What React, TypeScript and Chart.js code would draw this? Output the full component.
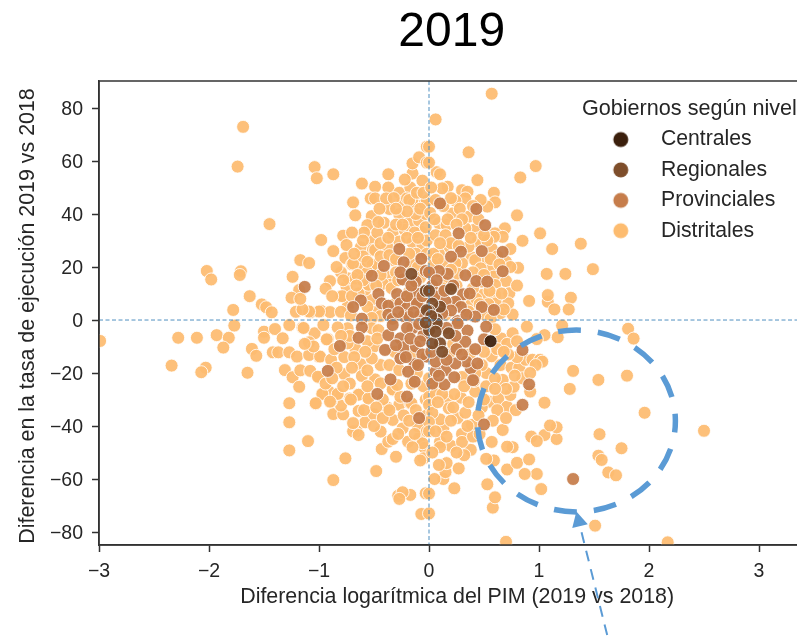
import React, { useEffect, useRef } from "react";
import { Chart, registerables } from "chart.js";

Chart.register(...registerables);

const chartTitle = "2019";
const xAxisTitle = "\u00a0\u00a0\u00a0Diferencia logarítmica del PIM (2019 vs 2018)";
const yAxisTitle = "Diferencia en la tasa de ejecución 2019 vs 2018\u00a0";
const legendTitle = "Gobiernos según nivel";
const xTicks = [-3, -2, -1, 0, 1, 2, 3];
const yTicks = [-80, -60, -40, -20, 0, 20, 40, 60, 80];

const centrales: number[][] = [[0.56, -8.0]];

const regionales: number[][] = [
  [-0.16,17.4],[-0.02,11],[-0.03,11],[0.2,11.7],[0,11],[0.1,5],[0.03,6.2],[0,3.5],[0.07,0.3],[-0.02,3.7],
  [0.07,-1.3],[0.18,-5],[0.1,-8.8],[0.12,-12],[0.03,-8.8],[0,-3.8],[0.06,-4.4],[0.02,1.5],[-0.03,-1],
];

const provinciales: number[][] = [
  [-1.13,12.5],[-0.52,16.7],[-0.41,20.4],[-0.27,26.8],[-0.23,21.8],[-0.07,23.1],[-0.03,18.5],[-0.46,9.8],[-0.62,7.4],[-0.69,4.9],
  [-0.43,6.3],[-0.37,5.4],[-0.29,9.8],[-0.26,6.3],[-0.2,4.6],[-0.1,6.3],[-0.12,14.5],[-0.24,15.3],[-0.23,1.5],[-0.37,2],
  [-0.33,0.5],[-0.61,0.5],[-0.18,1.2],[-0.08,1.8],[-0.11,10],[-0.26,18],[-0.11,6.3],[-0.2,9],[-0.16,13],[-0.06,9],[-0.14,3],[-0.28,3],
  [0.1,44],[0.43,41.9],[0.51,35.8],[0.27,32.7],[0.29,25.8],[0.2,23.9],[0.48,26],[0.67,25.7],[0.67,18.4],[0.33,16.9],[0.17,17.4],
  [0.43,14.7],[0.53,14.5],[0.09,18.5],[0.31,9.7],[0.37,10],[0.24,6.9],[0.48,4.9],[0.59,3.8],[0.42,1.3],[0.29,4.9],[0.15,7],[0.03,13],[0,18],
  [0.26,-0.4],[0.2,3.6],[0.12,2.5],[0.05,9],[0.14,11],[0.07,15],[0.22,13],[0.34,2],
  [-0.61,-2.8],[-0.64,-6.7],[-0.81,-9.8],[-0.92,-19.2],[-0.37,-5.7],[-0.4,-11.3],[-0.15,-3.1],[-0.26,-6.9],[-0.05,-5.7],[-0.23,-10.3],[-0.12,-10],
  [-0.13,-16.7],[-0.19,-19.5],[-0.13,-23.3],[-0.35,-22.4],[-0.47,-27.9],[-0.2,-28.9],[-0.09,-37],[-0.33,-1.9],[-0.02,-13.8],[-0.26,-14.5],
  [-0.2,-3],[-0.09,-1.5],[-0.3,-9.5],[-0.17,-7],[-0.08,-8],[-0.21,-14],[-0.06,-13],[-0.1,-17],
  [0.52,-2.5],[0.5,-7.3],[0.35,-4],[0.33,-8.2],[0.42,-11],[0.26,-1.3],[0.15,-18.9],[0.38,-18.2],[0.14,-24.3],[0.23,-21.6],[0.4,-22.7],[0.91,-24.3],
  [0.85,-32],[0.06,-19.5],[0.06,-15.7],[0.34,-15.7],[0.44,-16.4],[0.24,-16.4],[0.85,-11.3],[0.5,-39.4],[1.31,-60],
  [0.16,-3],[0.24,-6],[0.25,-11],[0.02,-12],[0.16,-15],[0.3,-13],[0.03,-24],[0.09,-21],
];

const distritales: number[][] = [
  [-1.69,72.9],[-1.74,57.9],[-1.04,57.7],[-1.02,53.5],[-0.87,55],[-0.61,51.5],[-0.37,55],[-0.49,50.3],[-0.37,50],[-0.69,44.4],
  [-0.67,39.5],[-1.45,36.2],[-0.98,30.2],[-0.78,31.8],[-0.75,28.3],[-0.87,26],[-0.62,27.4],[-0.52,29.8],[-0.52,39.2],[-0.56,35.8],
  [-0.59,33],[-0.41,36.7],[-0.33,33],[-0.36,41.9],[-0.27,39.9],[-0.18,36.7],[-0.09,37.5],[-0.07,33.3],[-0.15,29.2],[-0.27,29.6],
  [-0.38,27.7],[-0.51,26.4],[-0.27,48],[-0.17,50],[-0.15,55.3],[-0.15,59.1],[-0.09,61.4],[-0.02,65.4],[-0.02,59.4],[-0.06,52.6],
  [-0.53,45.9],[-0.49,45.9],[-0.39,45.9],[-0.24,44.6],[-0.14,45.9],[-0.2,45.9],[-0.14,44],[-0.04,44],[-0.18,45.3],[-0.02,45],[-0.03,40],
  [-2.02,18.5],[-1.98,15.3],[-1.71,18.4],[-1.72,17],[-1.17,22.6],[-1.09,21.5],[-1.24,16.3],[-1.18,11.3],[-0.9,14.7],[-0.94,11.8],
  [-1.63,9],[-1.52,5.9],[-1.48,4.8],[-1.43,2.9],[-1.78,3.8],[-1.25,8.4],[-1.21,3.1],[-1.08,2.9],[-0.98,3.4],[-0.9,3],
  [-0.8,9],[-0.75,12.6],[-0.73,15.7],[-0.67,15.7],[-0.76,23.4],[-0.7,21],[-0.62,19.5],[-0.5,20.5],[-0.51,20.9],[-0.32,22.6],
  [-0.06,28.3],[-0.12,25],[-0.49,26.4],[-0.38,16.4],[-0.35,13.3],[-0.42,13.7],[-0.18,10.6],[-0.53,7.5],[-0.74,5],[-1,3.2],
  [-0.8,3.1],[-1.09,3.2],[-0.71,1.7],[-0.5,3],[-1.15,4],[-1.17,8],[-0.58,11.5],[-0.55,13.3],[-0.79,9],[-0.69,21.3],
  [-0.3,18],[-0.34,12],[-0.28,15],[-0.44,17],[-0.56,18],[-0.6,15],[-0.48,13],[-0.64,10],[-0.56,5],[-0.44,1.5],
  [-0.16,21],[-0.1,20],[-0.18,25],[-0.02,30],[-0.08,16],[-0.02,25],[-0.31,6],[-0.16,8],[-0.05,9],[-0.52,0.8],
  [-0.44,24],[-0.36,24.5],[-0.3,23],[-0.47,33],[-0.44,29],[-0.37,31],[-0.22,34],[-0.13,33],[-0.2,31],[-0.3,36],
  [-0.24,36],[-0.12,40],[-0.2,41],[-0.08,42],[-0.32,46],[-0.3,42],[-0.45,42],[-0.11,48],[-0.05,48],[-0.22,53],
  [-0.6,24],[-0.68,25],[-0.56,22],[-0.65,17],[-0.8,18],[-0.84,20],[-0.78,15],[-0.88,9],[-0.7,9],[-0.66,13],
  [-0.6,30],[-0.7,33],[-0.46,37],[-0.03,35],[-0.1,31],
  [0.57,85.4],[0.06,75.7],[0,65.4],[0.36,63.3],[0.97,58.1],[0.83,53.8],[0.44,52.8],[0.07,55.8],[0,59.4],[0.17,50.3],
  [0.12,49.7],[0.3,49],[0.35,48.4],[0.33,45.9],[0.24,45],[0.59,48],[0.6,44.4],[0.53,42.8],[0.47,45.3],[0.8,39.5],
  [0.36,39],[1.01,32.7],[0.85,29.9],[0.69,34.6],[0.6,32.7],[0.67,31.4],[1.12,26.8],[1.38,28.8],[1.49,19.2],[1.07,17.4],
  [1.24,17.4],[0.81,19.7],[0.74,26.8],[0.91,7.2],[1.08,6.9],[1.08,9.4],[1.29,8.4],[1.14,4],[1.27,4],[0.76,2.1],
  [0.06,45.3],[0.09,36.5],[0.16,35.8],[0.01,40.4],[0.21,40.2],[0.41,34],[0.06,32],[0.15,32],[0.33,34.6],[0.45,30.8],
  [0.18,27.7],[0.09,25],[0.04,25],[0.39,23.6],[0.44,29.5],[0.36,27.7],[0.57,27],[0.59,31.4],[0.53,22.6],[0.42,22.6],
  [0.3,21.4],[0.12,21.4],[0.04,20.8],[0.24,21.4],[0.57,19.5],[0.47,19.5],[0.7,22],[0.74,20],[0.7,14.7],[0.59,16.4],
  [0.6,13.2],[0.48,14.5],[0.73,10.1],[0.49,9.5],[0.6,9.5],[0.61,6.3],[0.72,6.3],[0.38,5.7],[0.27,6.9],[0.36,3.2],
  [0.65,2.6],[0.51,2],[0.15,14],[0.25,13],[0.09,10],[0.43,8],[0.54,6],[0.2,29],[0.26,17.5],[0.12,12],
  [0.05,38],[0.13,43],[0.2,46],[0.28,42],[0.3,38],[0.4,43],[0.45,38],[0.17,38],[0.25,36],[0.1,29],[0.27,28],
  [0.02,50],[0.1,55],[0.53,30],[0.38,31],[0.5,32],[0.62,24],[0.56,23],[0.64,21],[0.4,18],[0.5,17],
  [0.2,19],[0.08,23],[0.8,13],[0.66,10],[0.55,11],[0.4,12],[0.46,6],[0.68,4],[0.15,2],[0.56,0.5],
  [-2.99,-7.9],[-2.28,-6.7],[-2.11,-6.7],[-1.93,-5.7],[-1.82,-6.7],[-1.87,-10.4],[-1.77,-2.1],[-2.34,-17.2],[-2.03,-18],[-2.07,-19.7],
  [-1.65,-19.9],[-1.61,-10.9],[-1.57,-13.5],[-1.5,-4.4],[-1.5,-6.7],[-1.4,-3.4],[-1.42,-12.2],[-1.37,-12.2],[-1.33,-6.9],[-1.27,-12.2],
  [-1.2,-13.8],[-1.27,-1.9],[-1.15,-2.9],[-1.04,-5],[-1.09,-8.4],[-0.92,-7.2],[-1,-13.8],[-1.09,-13.2],[-1.31,-18.9],[-1.24,-21.6],
  [-1.18,-25.2],[-1.17,-19],[-1.08,-19.2],[-1,-21.7],[-1.27,-31.4],[-1.27,-38.6],[-1.27,-49.2],[-1.1,-45.7],[-1.03,-31.6],[-0.97,-28],
  [-0.76,-52.2],[-0.87,-60.4],[-0.48,-57],[-0.3,-51.6],[-0.43,-48.7],[-0.37,-45.9],[-0.33,-44.9],[-0.44,-42.1],[-0.58,-38.6],[-0.66,-41.9],
  [-0.69,-42],[-0.64,-43.4],[-0.69,-38.9],[-0.33,-37.7],[-0.24,-40.9],[-0.5,-35.6],[-0.64,-34.3],[-0.59,-34],[-0.87,-35.5],[-0.78,-35.6],
  [-0.8,-32.3],[-0.89,-30.6],[-0.83,-27.7],[-0.91,-27],[-0.64,-28],[-0.72,-29.6],[-0.56,-29],[-0.38,-33],[-0.33,-26.4],[-0.27,-32],
  [-0.17,-31.5],[-0.19,-45.9],[-0.09,-44.6],[-0.04,-48.2],[-0.05,-52.2],[-0.06,-46.5],[-0.17,-66],[-0.28,-66.3],[-0.24,-65],[-0.27,-67.5],
  [-0.03,-65.4],[-0.07,-73.2],[-1.14,-3],[-0.96,-1.9],[-0.93,-7.3],[-0.74,-3.1],[-0.83,-2.8],[-0.52,-3.1],[-0.46,-3.8],[-0.99,-13.8],
  [-0.89,-15],[-0.77,-14],[-0.62,-16.7],[-0.67,-10.7],[-0.5,-10],[-0.74,-8.8],[-0.77,-20.4],[-0.61,-21.1],[-0.44,-17],[-0.36,-17],
  [-0.49,-22.4],[-0.44,-23.9],[-0.33,-26.2],[-0.64,-28.2],[-0.83,-27.9],[-0.97,-27.9],[-1.03,-31.4],[-0.9,-30.8],[-0.71,-30],[-0.55,-29.6],
  [-0.26,-29],[-0.16,-31.4],[-1.01,-21.4],[-0.11,-20],[-0.29,-24.5],[-0.05,-25],[-0.03,-30],[-0.27,-18.9],[-0.52,-14.5],[-0.16,-13],
  [-0.31,-12],[-0.56,-8],[-0.47,-7],[-0.16,-24],[-0.42,-30],[-0.23,-36],[-0.12,-34],[-0.1,-40],[-0.02,-42],[-0.02,-36],
  [-0.72,-6],[-0.58,-12],[-0.68,-14],[-0.8,-6],[-0.86,-11],[-0.84,-18],[-0.7,-18],[-0.56,-19],[-0.56,-25],[-0.72,-24],
  [-0.78,-25],[-0.48,-33],[-0.5,-40],[-0.42,-37],[-0.36,-34],[-0.18,-38],[-0.13,-43],[-0.28,-43],[-0.08,-53],[-0.15,-48],
  [-1.05,-10],[-1.13,-9],[-0.94,-24],[-0.88,-22],
  [1.81,-3.3],[1.86,-7],[1.17,-6.5],[1.05,-5.7],[1.21,-2.1],[0.98,-7.2],[1.31,-19.2],[1.54,-22.6],[1.8,-21],[1.28,-26],
  [1.05,-31.2],[1.96,-35],[2.5,-41.8],[1.55,-43.1],[1.75,-48.4],[1.54,-51.2],[1.57,-52.8],[1.63,-57.5],[1.7,-58.6],[1.51,-77.6],
  [2.17,-83.9],[0.7,-83.7],[0.58,-70.8],[0.6,-66.9],[0.53,-62],[1.02,-63.8],[0.98,-58.1],[0.87,-58.1],[0.71,-56.4],[0.8,-53.9],
  [0.91,-52.6],[0.59,-53],[0.52,-52.4],[1.16,-44.9],[1.05,-43.4],[0.93,-44],[0.98,-45.7],[1.16,-40.5],[1.1,-39.8],[0.76,-48],
  [0.71,-47.8],[0.67,-41.5],[0.57,-46],[0.38,-49],[0.32,-51],[0.39,-39.6],[0.23,-63.5],[0.13,-60],[0.05,-60],[0.15,-57.4],
  [0.16,-54],[0.09,-54.7],[0.2,-47.5],[0.1,-46],[0.1,-48],[0.3,-43],[0.3,-46],[0.26,-37],[0.33,-35],[0.13,-41],
  [0.1,-37.5],[0.17,-30],[0.18,-33.3],[0.29,-29.3],[0.42,-27],[0.41,-23],[0.52,-25],[0.55,-30.8],[0.63,-29.6],[0.71,-32.7],
  [0.74,-28.3],[0.77,-25.2],[0.92,-27],[0.79,-34],[0.67,-22.6],[0.57,-13.7],[0.65,-17],[0.75,-18],[0.82,-18],[0.88,-15],
  [0.94,-15],[1.01,-15],[1.03,-15.7],[0.97,-17],[0.85,-22],[0.66,-7],[0.76,-5],[0.89,-2.5],[0.71,-9],[0.6,-3.5],
  [0.8,-14],[0.52,-20],[0.3,-21.5],[0.23,-28],[0.06,-24.5],[0,-22],[0,-29],[0,-32],[0.03,-35],[0,-38.5],
  [0,-42],[0,-65.5],[0,-73],[0.06,-28],[0.12,-28],[0.22,-33],[0.36,-31],[0.48,-33],[0.4,-44],[0.45,-36],
  [0.18,-13],[0.28,-11],[0.37,-13],[0.5,-12],[0.62,-11],[0.72,-13],[0.22,-9],[0.48,-17],[0.6,-22],[0.7,-26],
  [0.08,-31],[0.2,-38],[0.06,-42],[0.16,-44],[0.35,-40],[0.25,-50],[0.46,-43],[0.5,-30],[0.6,-26],[0.62,-34],
  [0.58,-38],[0.7,-37],[0.42,-20],[0.32,-25],[0.03,-50],[0.27,-56],[0.78,-21],[0.68,-12],[0.92,-20],[0.8,-8],
];

// Hand-drawn annotation over the plot, in data units of the axes.
const circleCentre = [1.34, -38.1];
const circleRadii = [0.9, 34.3];
const arrowFrom = [1.62, -118.9];
const arrowTip = [1.34, -72.3];

const seriesNames = ["Centrales", "Regionales", "Provinciales", "Distritales"];
const seriesColors = ["#3b1f0c", "#7e4e2b", "#c67d4b", "#fdbc70"];
const seriesValues = [centrales, regionales, provinciales, distritales];

const FONT = "'Liberation Sans', Arial, sans-serif";
const INK = "#262626";
const BLUE = "#5b9bd5";
const LINE_BLUE = "#4f8fc0";

function marker(color: string) {
  const c = document.createElement("canvas");
  c.width = 18;
  c.height = 18;
  const g = c.getContext("2d")!;
  g.fillStyle = color;
  g.beginPath();
  g.arc(9, 9, 7.5, 0, Math.PI * 2);
  g.fill();
  return c;
}

const overlay = {
  id: "overlay",
  afterLayout(chart: any) {
    chart.legend.left = 582;
    chart.legend.top = chart.chartArea.top;
    chart.titleBlock.left += 7;
  },
  afterDatasetsDraw(chart: any) {
    const { ctx, chartArea, scales } = chart;
    const { x, y } = scales;
    ctx.save();
    ctx.strokeStyle = LINE_BLUE;
    ctx.lineWidth = 1;
    ctx.setLineDash([4, 2.5]);
    ctx.beginPath();
    ctx.moveTo(x.getPixelForValue(0), chartArea.top);
    ctx.lineTo(x.getPixelForValue(0), chartArea.bottom);
    ctx.moveTo(chartArea.left, y.getPixelForValue(0));
    ctx.lineTo(chartArea.right, y.getPixelForValue(0));
    ctx.stroke();
    ctx.setLineDash([]);
    ctx.strokeStyle = "#333";
    ctx.lineWidth = 1.5;
    ctx.strokeRect(chartArea.left, chartArea.top, chartArea.right - chartArea.left + 2, chartArea.bottom - chartArea.top);
    ctx.restore();
  },
  afterDraw(chart: any) {
    const { ctx, scales } = chart;
    const { x, y } = scales;
    const cx = x.getPixelForValue(circleCentre[0]);
    const cy = y.getPixelForValue(circleCentre[1]);
    const rx = x.getPixelForValue(circleCentre[0] + circleRadii[0]) - cx;
    const ry = y.getPixelForValue(circleCentre[1] - circleRadii[1]) - cy;
    ctx.save();
    ctx.strokeStyle = BLUE;
    ctx.fillStyle = BLUE;
    ctx.lineWidth = 5.5;
    ctx.setLineDash([23, 17]);
    ctx.lineDashOffset = 11.5;
    ctx.beginPath();
    ctx.ellipse(cx, cy, rx, ry, 0, 0, Math.PI * 2);
    ctx.stroke();
    const fx = x.getPixelForValue(arrowFrom[0]);
    const fy = y.getPixelForValue(arrowFrom[1]);
    const tx = x.getPixelForValue(arrowTip[0]);
    const ty = y.getPixelForValue(arrowTip[1]);
    const a = Math.atan2(ty - fy, tx - fx);
    ctx.lineWidth = 2;
    ctx.setLineDash([11, 8]);
    ctx.lineDashOffset = 0;
    ctx.beginPath();
    ctx.moveTo(fx, fy);
    ctx.lineTo(tx - 18 * Math.cos(a), ty - 18 * Math.sin(a));
    ctx.stroke();
    ctx.setLineDash([]);
    ctx.beginPath();
    ctx.moveTo(tx, ty);
    ctx.lineTo(tx - 15 * Math.cos(a) + 8 * Math.sin(a), ty - 15 * Math.sin(a) - 8 * Math.cos(a));
    ctx.lineTo(tx - 15 * Math.cos(a) - 8 * Math.sin(a), ty - 15 * Math.sin(a) + 8 * Math.cos(a));
    ctx.closePath();
    ctx.fill();
    ctx.restore();
  },
};

export default function App() {
  const ref = useRef<HTMLCanvasElement>(null);
  useEffect(() => {
    const chart = new Chart(ref.current!, {
      type: "scatter",
      data: {
        datasets: seriesNames.map((name, i) => ({
          label: name,
          data: seriesValues[i].map(([vx, vy]) => ({ x: vx, y: vy })),
          backgroundColor: seriesColors[i] + "ee",
          borderColor: "rgba(255,255,255,0.85)",
          borderWidth: 1,
          pointRadius: 6.5,
        })),
      },
      options: {
        animation: false,
        responsive: false,
        layout: { padding: 0 },
        plugins: {
          title: {
            display: true,
            text: chartTitle,
            color: "#000",
            fullSize: false,
            font: { family: FONT, size: 48, weight: "normal" },
            padding: { top: 4, bottom: 19.4 },
          },
          tooltip: { enabled: false },
          legend: {
            position: "chartArea",
            align: "start",
            title: {
              display: true,
              text: legendTitle,
              position: "start",
              color: INK,
              font: { family: FONT, size: 21.6 },
              padding: { top: 17, bottom: -4.2 },
            },
            labels: {
              usePointStyle: true,
              pointStyleWidth: 59.2,
              color: INK,
              padding: 9.2,
              font: { family: FONT, size: 21.2 },
              generateLabels: () =>
                seriesNames.map((name, i) => ({
                  text: name,
                  pointStyle: marker(seriesColors[i]),
                  datasetIndex: i,
                  fontColor: INK,
                  lineWidth: 0,
                  hidden: false,
                })),
            },
          },
        },
        scales: {
          x: {
            type: "linear",
            min: -3,
            max: 3.35,
            afterFit: (s: any) => { s.height = 94; s.paddingLeft = 0; s.paddingRight = 0; },
            afterBuildTicks: (s: any) => { s.ticks = xTicks.map((value) => ({ value })); },
            grid: { drawOnChartArea: false, color: "#333", tickLength: 7, tickWidth: 1.5 },
            border: { color: "#333", width: 1.5 },
            ticks: { color: INK, font: { family: FONT, size: 19.5 }, padding: 8, maxRotation: 0, callback: (v: any) => String(v).replace("-", "\u2212") },
            title: { display: true, text: xAxisTitle, color: INK, font: { family: FONT, size: 21.4 }, padding: { top: 6, bottom: 29.4 } },
          },
          y: {
            type: "linear",
            min: -84.9,
            max: 90.2,
            afterFit: (s: any) => { s.width = 99; s.paddingTop = 0; s.paddingBottom = 0; },
            afterBuildTicks: (s: any) => { s.ticks = yTicks.map((value) => ({ value })); },
            grid: { drawOnChartArea: false, color: "#333", tickLength: 7, tickWidth: 1.5 },
            border: { color: "#333", width: 1.5 },
            ticks: { color: INK, font: { family: FONT, size: 19.5 }, padding: 9, labelOffset: 1.5, callback: (v: any) => String(v).replace("-", "\u2212") },
            title: { display: true, text: yAxisTitle, color: INK, font: { family: FONT, size: 21.4 }, padding: { top: 15, bottom: 0 } },
          },
        },
      },
      plugins: [overlay],
    } as any);
    return () => chart.destroy();
  }, []);
  return (
    <div style={{ position: "absolute", left: 0, top: 0, width: 797, height: 639, overflow: "hidden" }}>
      <canvas ref={ref} width={805} height={639} style={{ display: "block" }} />
    </div>
  );
}
